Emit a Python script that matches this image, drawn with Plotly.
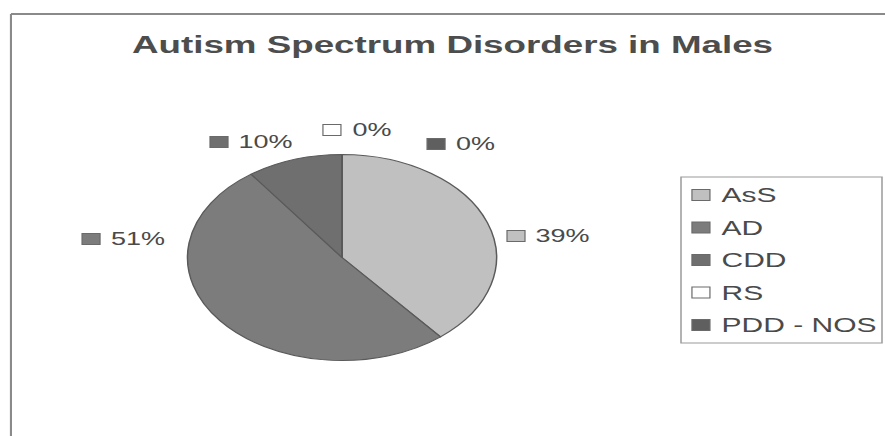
import plotly.graph_objects as go

# Chart data
categories = ["AsS", "AD", "CDD", "RS", "PDD - NOS"]
percent = [39, 51, 10, 0, 0]
slice_colors = ["#c0c0c0", "#7c7c7c", "#6f6f6f", "#ffffff", "#5f5f5f"]
title_text = "Autism Spectrum Disorders in Males"

# Layout is built on a narrow canvas and widened with a horizontal stretch
W, H = 590, 436
STRETCH = 1.5
FONT = "Liberation Sans, Arial, sans-serif"
TEXT_COLOR = "#4a4a4a"
EDGE = "#5a5a5a"

# Pie geometry (layout pixels)
pie_cx, pie_cy, pie_r = 228, 257.5, 103

# Data-label anchors (left edge of the colour key, vertical centre)
label_anchor = {
    "AsS": (338, 236),
    "AD": (54.7, 239),
    "CDD": (140, 142),
    "RS": (215.3, 130),
    "PDD - NOS": (284.7, 144),
}

# Legend box and rows
legend_box = (454, 177, 588, 343)
legend_key_x = 461.3
legend_rows = [195, 227.5, 260, 292.5, 325]

KEY_W, KEY_H, TEXT_OFFSET = 12, 11, 17.4


def px(x):
    return x / W


def py(y):
    return 1 - y / H


fig = go.Figure(
    go.Pie(
        labels=categories,
        values=percent,
        sort=False,
        direction="clockwise",
        rotation=0,
        marker=dict(colors=slice_colors, line=dict(color=EDGE, width=1)),
        textinfo="none",
        hoverinfo="label+percent",
        showlegend=False,
        domain=dict(
            x=[px(pie_cx - pie_r), px(pie_cx + pie_r)],
            y=[py(pie_cy + pie_r), py(pie_cy - pie_r)],
        ),
    )
)

shapes = []
annotations = []


def add_key(x, y, color):
    shapes.append(
        dict(
            type="rect", xref="paper", yref="paper",
            x0=px(x), x1=px(x + KEY_W),
            y0=py(y + KEY_H / 2), y1=py(y - KEY_H / 2),
            fillcolor=color, line=dict(color="#6a6a6a", width=0.8),
        )
    )


def add_text(x, y, text, size):
    annotations.append(
        dict(
            xref="paper", yref="paper", x=px(x), y=py(y),
            xanchor="left", yanchor="middle", showarrow=False,
            text=text, font=dict(family=FONT, size=size, color=TEXT_COLOR),
        )
    )


# Percentage labels with colour keys
for cat, val, col in zip(categories, percent, slice_colors):
    lx, ly = label_anchor[cat]
    add_key(lx, ly, col)
    add_text(lx + TEXT_OFFSET, ly, f"{val}%", 18)

# Legend
x0, y0, x1, y1 = legend_box
shapes.append(
    dict(
        type="rect", xref="paper", yref="paper",
        x0=px(x0), x1=px(x1), y0=py(y1), y1=py(y0),
        line=dict(color="#9a9a9a", width=1), fillcolor="rgba(0,0,0,0)",
    )
)
for cat, col, ry in zip(categories, slice_colors, legend_rows):
    add_key(legend_key_x, ry, col)
    add_text(legend_key_x + TEXT_OFFSET, ry, cat, 20)

# Chart frame (left and top edges)
shapes.append(dict(type="line", xref="paper", yref="paper",
                   x0=px(7.3), x1=px(7.3), y0=0, y1=py(14),
                   line=dict(color="#8a8a8a", width=1.4)))
shapes.append(dict(type="line", xref="paper", yref="paper",
                   x0=px(7.3), x1=1, y0=py(14), y1=py(14),
                   line=dict(color="#8a8a8a", width=2)))

fig.update_layout(
    width=W,
    height=H,
    margin=dict(l=0, r=0, t=0, b=0),
    paper_bgcolor="white",
    plot_bgcolor="white",
    title=dict(
        text=f"<b>{title_text}</b>",
        x=px(301.7), xref="paper", xanchor="center",
        y=py(44), yref="container", yanchor="middle",
        font=dict(family=FONT, size=24.5, color="#4d4d4d"),
    ),
    shapes=shapes,
    annotations=annotations,
)

stretch_js = (
    "document.body.style.margin='0';"
    "var gd=document.getElementById('{plot_id}');"
    "gd.style.transformOrigin='0 0';"
    f"gd.style.transform='scaleX({STRETCH})';"
)

fig.write_html("out.html", post_script=stretch_js)
